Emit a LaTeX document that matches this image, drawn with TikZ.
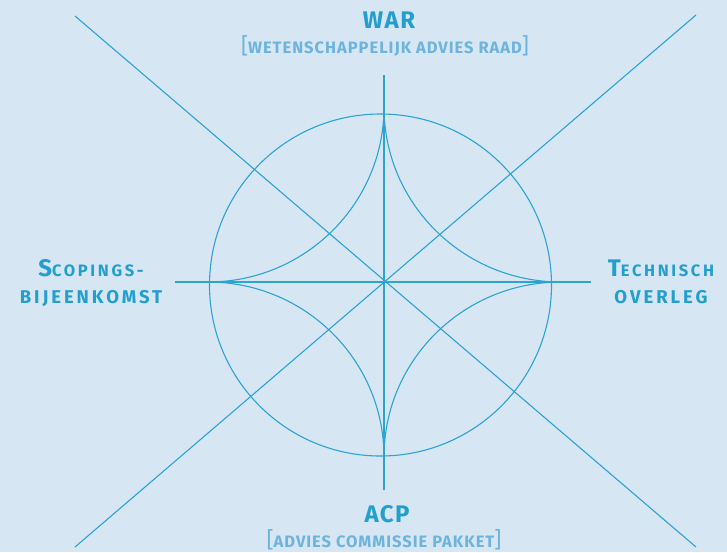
\documentclass[tikz,border=0pt]{standalone}
\usepackage{fontspec}
\setmainfont{Fira Sans}
\newfontfamily\labfont{Fira Sans}[LetterSpace=6]
\newfontfamily\sidefont{Fira Sans}[LetterSpace=16]
\definecolor{paper}{HTML}{D7E6F3}
\definecolor{stroke}{HTML}{2BA3D3}
\definecolor{heading}{HTML}{229ECF}
\definecolor{subhead}{HTML}{6CB3DE}
% small capitals built from reduced upper case
\newcommand{\smallcap}[1]{{\fontsize{16.5}{17}\selectfont\uppercase{#1}}}
\newcommand{\lowcap}[1]{{\fontsize{18.5}{19}\selectfont\uppercase{#1}}}
\newcommand{\initcap}[1]{{\fontsize{24}{24}\selectfont #1}}
\newcommand{\brk}[1]{{\fontsize{22}{22}\selectfont\mdseries #1}}
\begin{document}
\begin{tikzpicture}[x=1pt,y=-1pt,
  guide/.style={draw=stroke,line width=1.1pt},
  title/.style={anchor=base,inner sep=0pt,text=heading,font=\labfont\bfseries\fontsize{24}{24}\selectfont},
  subtitle/.style={anchor=base,inner sep=0pt,text=subhead,font=\labfont\bfseries},
  sidelabel/.style={anchor=base,inner sep=0pt,text=heading,font=\sidefont\bfseries}]
  \fill[paper] (0,0) rectangle (727,552);
  \useasboundingbox (0,0) rectangle (727,552);

  % end points of the guide lines
  \coordinate (dA) at (75,16);
  \coordinate (dB) at (696,547);
  \coordinate (dC) at (696,15);
  \coordinate (dD) at (75,547);
  \coordinate (hL) at (175,282);
  \coordinate (hR) at (591,282);
  \coordinate (vT) at (384,75);
  \coordinate (vB) at (384,490);

  % cusps of the four-pointed star
  \coordinate (cT) at (384,107);
  \coordinate (cR) at (561,282);
  \coordinate (cB) at (384,457);
  \coordinate (cL) at (208,282);

  \draw[guide] (dA) -- (dB);
  \draw[guide] (dC) -- (dD);
  \draw[guide] (hL) -- (hR);
  \draw[guide] (vT) -- (vB);

  \draw[guide] (380.5,285) circle[radius=171];

  \draw[guide] (cT) .. controls (384,203.6) and (463.2,282) .. (cR)
               .. controls (463.2,282) and (384,360.4) .. (cB)
               .. controls (384,360.4) and (305.2,282) .. (cL)
               .. controls (305.2,282) and (384,203.6) .. (cT);

  % labels
  \node[title] (war) at (389,28) {WAR};
  \node[subtitle] (warsub) at (385,53) {\brk{[}\smallcap{wetenschappelijk advies raad}\brk{]}};
  \node[title] (acp) at (387,522) {ACP};
  \node[subtitle] (acpsub) at (384,547) {\brk{[}\smallcap{advies commissie pakket}\brk{]}};

  \node[sidelabel] (scop1) at (91,276) {\initcap{S}\smallcap{copings-}};
  \node[sidelabel] (scop2) at (91,303) {\lowcap{bijeenkomst}};
  \node[sidelabel] (tech1) at (661,276) {\initcap{T}\smallcap{echnisch}};
  \node[sidelabel] (tech2) at (661,303) {\lowcap{overleg}};
\end{tikzpicture}
\end{document}
